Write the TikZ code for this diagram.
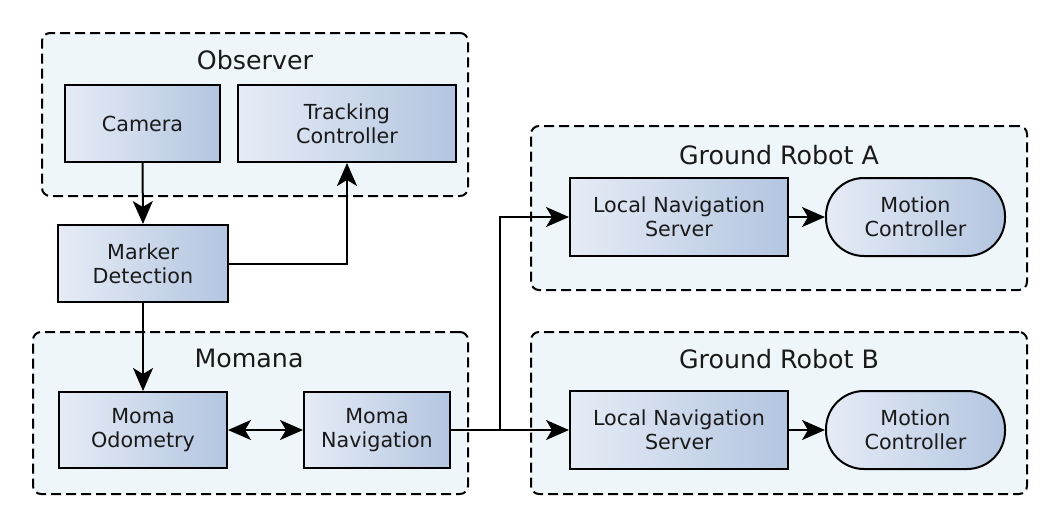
\documentclass[tikz,border=0pt]{standalone}
\usepackage{fontspec}
\setmainfont{DejaVu Sans}
\usetikzlibrary{arrows.meta}
\definecolor{contfill}{HTML}{EFF6FA}
\definecolor{shadeL}{HTML}{E6ECF6}
\definecolor{shadeR}{HTML}{B3C5E0}
\definecolor{txt}{HTML}{1A1A1A}
\tikzset{
  container/.style={draw=black, line width=2pt, dash pattern=on 10pt off 5pt,
    fill=contfill, rounded corners=8pt, inner sep=0pt},
  ctitle/.style={font=\fontsize{25.3}{30}\selectfont, text=txt, inner sep=0pt},
  block/.style={draw=black, line width=2pt, left color=shadeL, right color=shadeR,
    inner sep=0pt, align=center, text=txt, font=\fontsize{20.7}{24}\selectfont},
  roundblock/.style={block, rounded corners=38pt},
  conn/.style={line width=2pt, -{Stealth[length=23pt,width=20pt,inset=6pt]}},
  biconn/.style={line width=2pt, {Stealth[length=23pt,width=20pt,inset=6pt]}-{Stealth[length=23pt,width=20pt,inset=6pt]}},
}
\begin{document}
\begin{tikzpicture}[x=1pt,y=-1pt]
\useasboundingbox (0,0) rectangle (1059,528);
% containers
\node[container, minimum width=426pt, minimum height=163pt] (obs) at (255,114.5) {};
\node[ctitle] (obst) at (255,60) {Observer};
\node[container, minimum width=435pt, minimum height=162pt] (mom) at (250.5,413) {};
\node[ctitle] (momt) at (249,358) {Momana};
\node[container, minimum width=496pt, minimum height=164pt] (gra) at (779,208) {};
\node[ctitle] (grat) at (779,155) {Ground Robot A};
\node[container, minimum width=496pt, minimum height=162pt] (grb) at (779,413) {};
\node[ctitle] (grbt) at (779,359) {Ground Robot B};
% blocks
\node[block, minimum width=155pt, minimum height=77pt] (cam) at (142.5,123.5) {Camera};
\node[block, minimum width=218pt, minimum height=77pt] (tc) at (347,123.5) {Tracking\\Controller};
\node[block, minimum width=170pt, minimum height=77pt] (md) at (143,263.5) {Marker\\Detection};
\node[block, minimum width=168pt, minimum height=76pt] (odo) at (143,430) {Moma\\Odometry};
\node[block, minimum width=146pt, minimum height=76pt] (nav) at (377,430) {Moma\\Navigation};
\node[block, minimum width=218pt, minimum height=78pt] (lnsa) at (679,217) {Local Navigation\\Server};
\node[roundblock, minimum width=179pt, minimum height=78pt] (mca) at (915.5,217) {Motion\\Controller};
\node[block, minimum width=218pt, minimum height=78pt] (lnsb) at (679,430) {Local Navigation\\Server};
\node[roundblock, minimum width=179pt, minimum height=78pt] (mcb) at (915.5,430) {Motion\\Controller};
% connectors
\draw[conn] (cam.south) -- (md.north);
\draw[conn] (md.east) -| (tc.south);
\draw[conn] (md.south) -- (odo.north);
\draw[biconn] (odo.east) -- (nav.west);
\path (nav.east) -- ++(49,0) coordinate (j);
\draw[conn] (nav.east) -- (lnsb.west);
\draw[conn] (j) |- (lnsa.west);
\draw[conn] (lnsa.east) -- (mca.west);
\draw[conn] (lnsb.east) -- (mcb.west);
\end{tikzpicture}
\end{document}
